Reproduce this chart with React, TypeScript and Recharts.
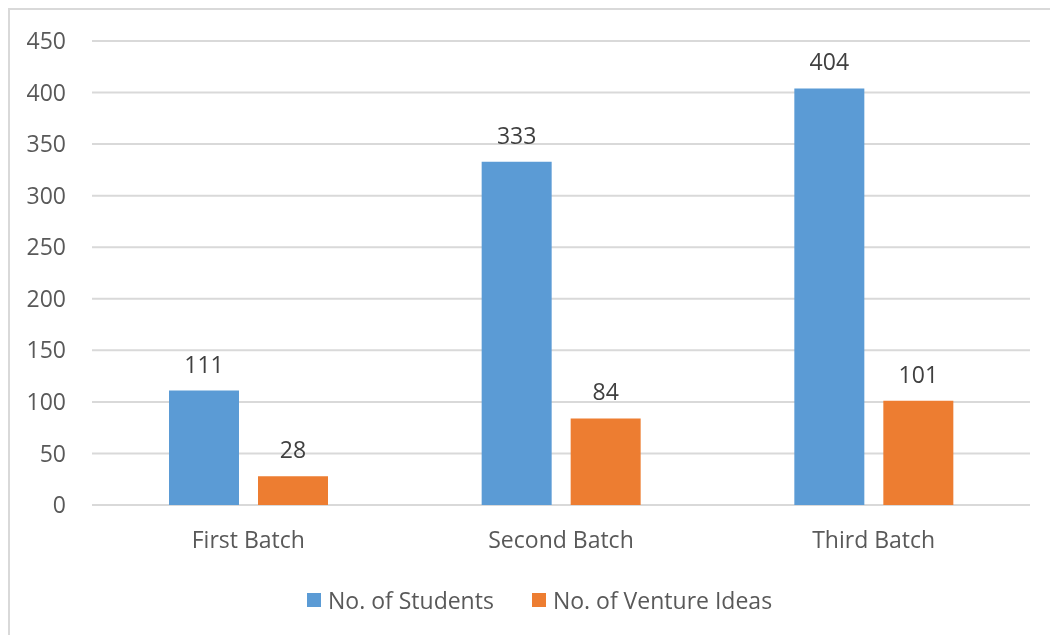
import React from 'react';
import {
  BarChart,
  Bar,
  XAxis,
  YAxis,
  CartesianGrid,
  Legend,
  LabelList,
} from 'recharts';

const batches = ['First Batch', 'Second Batch', 'Third Batch'];
const students = [111, 333, 404];
const ventureIdeas = [28, 84, 101];
const yTicks = [0, 50, 100, 150, 200, 250, 300, 350, 400, 450];

const BLUE = '#5B9BD5';
const ORANGE = '#ED7D31';
const FONT = '"Open Sans", "Noto Sans", sans-serif';
const FS = 23;

const data = batches.map((name, i) => ({
  name,
  students: students[i],
  ideas: ventureIdeas[i],
}));

const LegendContent = ({ payload }: any) => (
  <div style={{ display: 'flex', alignItems: 'center', height: 30, fontFamily: FONT, fontSize: FS, color: '#595959' }}>
    {(payload || []).map((entry: any, i: number) => (
      <div key={i} style={{ display: 'flex', alignItems: 'center', marginRight: 38 }}>
        <span style={{ display: 'inline-block', width: 14, height: 14, background: entry.color, marginRight: 7 }} />
        <span>{entry.value}</span>
      </div>
    ))}
  </div>
);

const App: React.FC = () => {
  return (
    <div style={{ position: 'relative', width: 1042, height: 619 }}>
      {/* outer chart frame, only top and left edges are visible */}
      <div
        style={{
          position: 'fixed',
          left: 8,
          top: 8,
          width: 1200,
          height: 800,
          border: '2px solid #d9d9d9',
          pointerEvents: 'none',
        }}
      />
      <BarChart
        width={1042}
        height={619}
        data={data}
        margin={{ top: 33, right: 20, bottom: 92, left: 0 }}
        barCategoryGap={77}
        barGap={19}
        style={{ fontFamily: FONT }}
      >
        <CartesianGrid vertical={false} stroke="#d9d9d9" strokeWidth={2} />
        <XAxis
          dataKey="name"
          axisLine={false}
          tickLine={false}
          tickSize={0}
          tickMargin={27}
          height={30}
          tick={{ fill: '#595959', fontSize: FS, fontFamily: FONT }}
        />
        <YAxis
          domain={[0, 450]}
          ticks={yTicks}
          width={84}
          axisLine={false}
          tickLine={false}
          tickSize={0}
          tickMargin={26}
          tick={{ fill: '#595959', fontSize: FS, fontFamily: FONT }}
        />
        <Legend
          verticalAlign="middle"
          content={<LegendContent />}
          wrapperStyle={{ top: 577, left: 299, width: 600, height: 30 }}
        />
        <Bar dataKey="students" name="No. of Students" fill={BLUE} isAnimationActive={false}>
          <LabelList dataKey="students" position="top" offset={18} fill="#404040" fontSize={FS} fontFamily={FONT} />
        </Bar>
        <Bar dataKey="ideas" name="No. of Venture Ideas" fill={ORANGE} isAnimationActive={false}>
          <LabelList dataKey="ideas" position="top" offset={18} fill="#404040" fontSize={FS} fontFamily={FONT} />
        </Bar>
      </BarChart>
    </div>
  );
};

export default App;
